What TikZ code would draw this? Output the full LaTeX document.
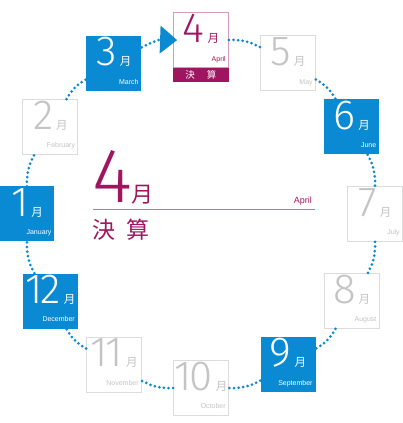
\documentclass[tikz,border=0pt]{standalone}
\usepackage{fontspec}
\usepackage{tikz}
\usetikzlibrary{positioning}
\usetikzlibrary{arrows.meta}
\usepackage[dvipsnames]{xcolor}

\newfontfamily\numfont{Fira Sans Light}
\newfontfamily\jpfont{Noto Sans CJK JP}
\newfontfamily\engfont{Liberation Sans}
\newcommand{\tsuki}{\kern3pt{\jpfont\fontsize{11.5}{11.5}\selectfont 月}}

\definecolor{kessanblue}{HTML}{0A8AD2}
\definecolor{kessanred}{HTML}{A0155F}
\definecolor{kessanpink}{HTML}{D59ABC}
\definecolor{offline}{HTML}{DCDCDC}
\definecolor{offtext}{HTML}{C4C4C4}

\begin{document}
\begin{tikzpicture}[
        monthbox/.style={rectangle, minimum size=55pt, inner sep=0pt},
        onbox/.style={monthbox, fill=kessanblue},
        offbox/.style={monthbox, draw=offline, fill=white, line width=0.8pt},
        nowbox/.style={monthbox, draw=kessanpink, fill=white, line width=0.8pt},
        strip/.style={rectangle, fill=kessanred, minimum width=55pt, minimum height=14pt, inner sep=0pt, text=white, font=\jpfont\fontsize{9.5}{9.5}\selectfont},
        numtext/.style={anchor=base, inner sep=0pt, font=\numfont\fontsize{42}{42}\selectfont},
        engtext/.style={anchor=base east, inner sep=0pt, font=\engfont\fontsize{7}{7}\selectfont},
        dots/.style={kessanblue, line width=3pt, line cap=round, dash pattern=on 0pt off 4.6pt}
        ]
        \useasboundingbox (-201pt,-209pt) rectangle (202pt,214pt);

        % Boxes
        \node[nowbox] (m4) at (90:174pt) {};
        \node[strip, below=0pt of m4] (m4s) {決\hspace{12pt}算};
        \node[offbox] (m5) at (60:174pt) {};
        \node[onbox] (m6) at (30:174pt) {};
        \node[offbox] (m7) at (0:174pt) {};
        \node[offbox] (m8) at (-30:174pt) {};
        \node[onbox] (m9) at (-60:174pt) {};
        \node[offbox] (m10) at (-90:174pt) {};
        \node[offbox] (m11) at (-120:174pt) {};
        \node[onbox] (m12) at (-150:174pt) {};
        \node[onbox] (m1) at (180:174pt) {};
        \node[offbox] (m2) at (150:174pt) {};
        \node[onbox] (m3) at (120:174pt) {};

        % Numbers
        \node[numtext, text=kessanred] (n4) at ([yshift=-30pt]m4.north) {4\tsuki};
        \node[numtext, text=offtext] (n5) at ([yshift=-30pt]m5.north) {5\tsuki};
        \node[numtext, text=white] (n6) at ([yshift=-30pt]m6.north) {6\tsuki};
        \node[numtext, text=offtext] (n7) at ([yshift=-30pt]m7.north) {7\tsuki};
        \node[numtext, text=offtext] (n8) at ([yshift=-30pt]m8.north) {8\tsuki};
        \node[numtext, text=white] (n9) at ([yshift=-30pt]m9.north) {9\tsuki};
        \node[numtext, text=offtext] (n10) at ([yshift=-30pt]m10.north) {1\kern-2pt0\tsuki};
        \node[numtext, text=offtext] (n11) at ([yshift=-30pt]m11.north) {1\kern-2pt1\tsuki};
        \node[numtext, text=white] (n12) at ([yshift=-30pt]m12.north) {1\kern-2pt2\tsuki};
        \node[numtext, text=white] (n1) at ([yshift=-30pt]m1.north) {1\tsuki};
        \node[numtext, text=offtext] (n2) at ([yshift=-30pt]m2.north) {2\tsuki};
        \node[numtext, text=white] (n3) at ([yshift=-30pt]m3.north) {3\tsuki};

        % Month names
        \node[engtext, text=kessanred] (e4) at ([shift={(-3pt,6pt)}]m4.south east) {April};
        \node[engtext, text=offtext] (e5) at ([shift={(-3pt,7pt)}]m5.south east) {May};
        \node[engtext, text=white] (e6) at ([shift={(-3pt,7pt)}]m6.south east) {June};
        \node[engtext, text=offtext] (e7) at ([shift={(-3pt,7pt)}]m7.south east) {July};
        \node[engtext, text=offtext] (e8) at ([shift={(-3pt,7pt)}]m8.south east) {August};
        \node[engtext, text=white] (e9) at ([shift={(-3pt,7pt)}]m9.south east) {September};
        \node[engtext, text=offtext] (e10) at ([shift={(-3pt,7pt)}]m10.south east) {October};
        \node[engtext, text=offtext] (e11) at ([shift={(-3pt,7pt)}]m11.south east) {November};
        \node[engtext, text=white] (e12) at ([shift={(-3pt,7pt)}]m12.south east) {December};
        \node[engtext, text=white] (e1) at ([shift={(-3pt,7pt)}]m1.south east) {January};
        \node[engtext, text=offtext] (e2) at ([shift={(-3pt,7pt)}]m2.south east) {February};
        \node[engtext, text=white] (e3) at ([shift={(-3pt,7pt)}]m3.south east) {March};

        % Centre
        \node[anchor=base west, inner sep=0pt, text=kessanred, font=\numfont\fontsize{77}{77}\selectfont] (bignum) at (-109pt,11pt) {4};
        \node[anchor=base west, inner sep=0pt, text depth=0pt, text=kessanred, font=\jpfont\fontsize{22}{22}\selectfont] (bigtsuki) at ([xshift=-1pt]bignum.base east) {月};
        \node[anchor=base east, inner sep=0pt, text=kessanred, font=\engfont\fontsize{9}{9}\selectfont] (bigeng) at (111pt,10pt) {April};
        \node[anchor=north west, inner sep=0pt, text=kessanred, font=\jpfont\fontsize{23}{23}\selectfont] (bigkessan) at (-109pt,-5pt) {決\hspace{11pt}算};
        \coordinate (rulel) at (-108pt,5pt);
        \coordinate (ruler) at (114pt,5pt);
        \draw[kessanred!60, line width=0.8pt] (rulel) -- (ruler);

        % Dotted ring
        \draw[dots] (m1) to[bend left=15] (m2);
        \draw[dots] (m2) to[bend left=15] (m3);
        \draw[dots, shorten >=-4pt, -{Triangle[length=17pt, width=28pt, line width=0pt]}] (m3) to[bend left=15] (m4);
        \draw[dots] (m4) to[bend left=15] (m5);
        \draw[dots] (m5) to[bend left=15] (m6);
        \draw[dots] (m6) to[bend left=15] (m7);
        \draw[dots] (m7) to[bend left=15] (m8);
        \draw[dots] (m8) to[bend left=15] (m9);
        \draw[dots] (m9) to[bend left=15] (m10);
        \draw[dots] (m10) to[bend left=15] (m11);
        \draw[dots] (m11) to[bend left=15] (m12);
        \draw[dots] (m12) to[bend left=15] (m1);

    \end{tikzpicture}
\end{document}
